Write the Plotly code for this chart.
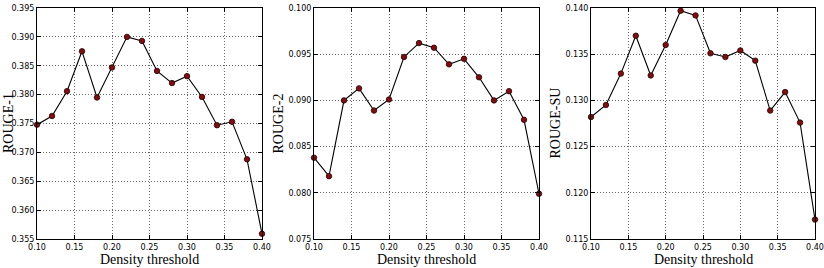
import plotly.graph_objects as go

thresholds = [0.10, 0.12, 0.14, 0.16, 0.18, 0.20, 0.22, 0.24, 0.26, 0.28,
              0.30, 0.32, 0.34, 0.36, 0.38, 0.40]
rouge1 = [0.3748, 0.3763, 0.3806, 0.3875, 0.3795, 0.3847, 0.3900, 0.3893,
          0.3841, 0.3820, 0.3832, 0.3796, 0.3747, 0.3753, 0.3688, 0.3559]
rouge2 = [0.0838, 0.0818, 0.0900, 0.0913, 0.0889, 0.0901, 0.0947, 0.0962,
          0.0957, 0.0939, 0.0945, 0.0925, 0.0900, 0.0910, 0.0879, 0.0799]
rougesu = [0.1282, 0.1295, 0.1329, 0.1370, 0.1327, 0.1360, 0.1397, 0.1392,
           0.1351, 0.1347, 0.1354, 0.1343, 0.1289, 0.1309, 0.1276, 0.1171]

panels = [
    ("ROUGE-1", rouge1, [0.355, 0.395], ["0.355", "0.360", "0.365", "0.370", "0.375", "0.380", "0.385", "0.390", "0.395"]),
    ("ROUGE-2", rouge2, [0.075, 0.100], ["0.075", "0.080", "0.085", "0.090", "0.095", "0.100"]),
    ("ROUGE-SU", rougesu, [0.115, 0.140], ["0.115", "0.120", "0.125", "0.130", "0.135", "0.140"]),
]
xtick_labels = ["0.10", "0.15", "0.20", "0.25", "0.30", "0.35", "0.40"]
xtitle = "Density threshold"

W, H = 824, 268
x_doms = [(37, 262), (314, 539), (591, 815)]
ytitle_x = [None, 278, 555]
y_dom = (1 - 239 / H, 1 - 8 / H)

serif = dict(family="Liberation Serif, Times New Roman", size=14, color="black")

fig = go.Figure()
layout = dict(width=W, height=H, margin=dict(l=0, r=0, t=0, b=0),
              paper_bgcolor="white", plot_bgcolor="white", showlegend=False)
annotations = []

for i, (name, vals, yr, ylabels) in enumerate(panels):
    n = "" if i == 0 else str(i + 1)
    fig.add_trace(go.Scatter(
        x=thresholds, y=vals, mode="lines+markers",
        line=dict(color="black", width=1.1),
        marker=dict(size=5.5, color="#7a1010", line=dict(color="#2a0000", width=0.8)),
        xaxis="x" + n, yaxis="y" + n, cliponaxis=False))
    common = dict(showline=True, linecolor="black", linewidth=1, mirror="allticks",
                  ticks="inside", ticklen=4, tickcolor="black",
                  showgrid=True, gridcolor="rgba(0,0,0,0.6)", griddash="1px,2px", gridwidth=1,
                  zeroline=False, automargin=False, ticklabeloverflow="allow",
                  tickfont=dict(family="DejaVu Sans", size=8, color="black"))
    layout["xaxis" + n] = dict(
        common, domain=[x_doms[i][0] / W, x_doms[i][1] / W], anchor="y" + n,
        range=[0.10, 0.40], tickvals=[float(t) for t in xtick_labels], ticktext=xtick_labels)
    layout["yaxis" + n] = dict(
        common, domain=list(y_dom), anchor="x" + n,
        range=yr, tickvals=[float(t) for t in ylabels], ticktext=ylabels)
    annotations.append(dict(text=xtitle, xref="paper", yref="paper",
                            x=(x_doms[i][0] + x_doms[i][1]) / 2 / W, y=1 - 259 / H,
                            xanchor="center", yanchor="middle", showarrow=False, font=serif))
    if ytitle_x[i] is None:
        annotations.append(dict(text=name, xref="paper", yref="paper",
                                x=0, y=(y_dom[0] + y_dom[1]) / 2, textangle=-90, borderpad=0,
                                xanchor="left", yanchor="middle", showarrow=False, font=serif))
    else:
        annotations.append(dict(text=name, xref="paper", yref="paper",
                                x=ytitle_x[i] / W, y=(y_dom[0] + y_dom[1]) / 2, textangle=-90,
                                xanchor="center", yanchor="middle", showarrow=False, font=serif))

layout["annotations"] = annotations
fig.update_layout(**layout)
fig.write_html("out.html")
